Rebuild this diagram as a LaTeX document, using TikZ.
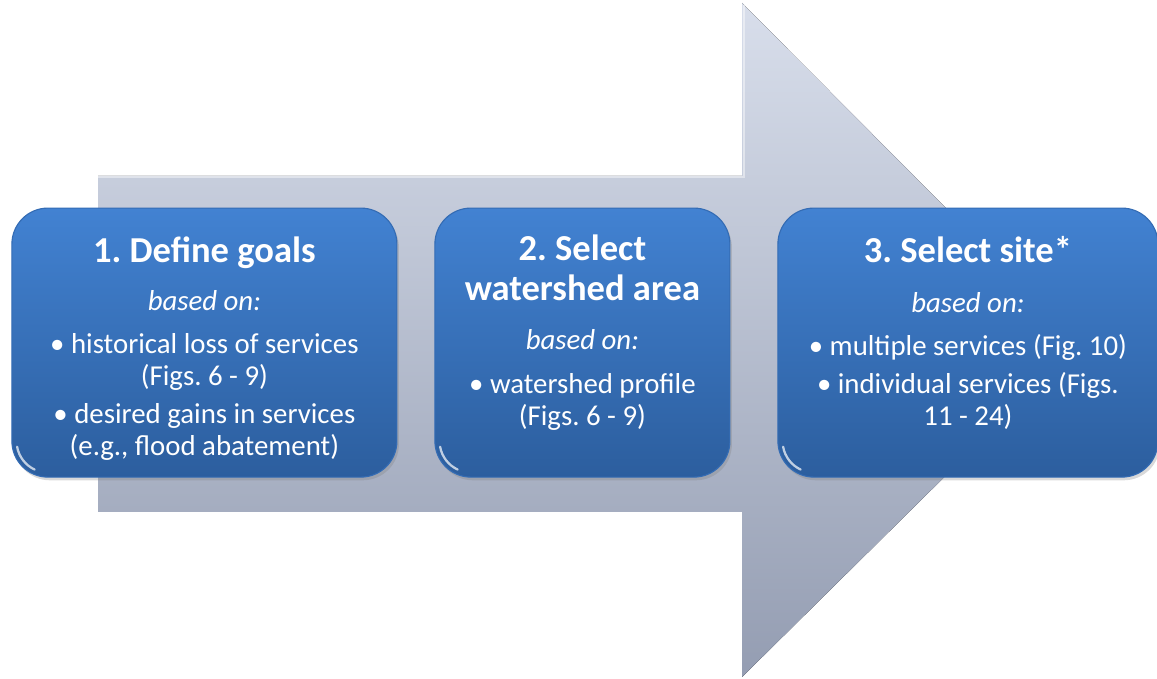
\documentclass[tikz,border=0pt]{standalone}
\usepackage{fontspec}
\setmainfont{Carlito}
\usepackage{tikz}
\usetikzlibrary{positioning}
\usetikzlibrary{shadows}

\definecolor{boxtop}{RGB}{66,130,210}
\definecolor{boxbot}{RGB}{44,94,158}
\definecolor{boxrim}{RGB}{52,108,180}
\definecolor{arrtop}{RGB}{216,222,235}
\definecolor{arrbot}{RGB}{148,157,178}

\begin{document}
\frenchspacing
\begin{tikzpicture}[stepbox/.style={rectangle,rounded corners=0.9cm,minimum height=6.725cm,outer sep=0pt,inner sep=0pt,top color=boxtop,bottom color=boxbot,draw=boxrim,line width=0.8pt,drop shadow={opacity=0.3,shadow xshift=0.05cm,shadow yshift=-0.08cm}},
  steptitle/.style={anchor=base,text=white,align=center,font={\fontsize{26}{28.5}\selectfont\bfseries}},
  stepbody/.style={anchor=base,text=white,align=center,font={\fontsize{20.5}{22.8}\selectfont}}]
  \useasboundingbox (0,0) rectangle (28.925,16.975);
  \clip (0,0) rectangle (28.925,16.975);

  \fill[top color=arrtop,bottom color=arrbot] (2.45,12.575) -- (18.55,12.575) -- (18.55,16.9) -- (27.0,8.4) -- (18.55,0.05) -- (18.55,4.175) -- (2.45,4.175) -- cycle;
  \draw[white,opacity=0.45,line width=1.5pt] (2.45,12.55) -- (18.6,12.55) -- (18.6,16.85);

  \node[stepbox,minimum width=9.625cm] (goals) at (5.11,8.41) {};
  \node[stepbox,minimum width=7.375cm,right=0.95cm of goals] (area) {};
  \node[stepbox,minimum width=9.5cm,right=1.2cm of area] (site) {};

  \foreach \b in {goals,area,site}
    \draw[white,opacity=0.7,line width=1.6pt,line cap=round] ([xshift=0.13cm,yshift=0.76cm]\b.south west) arc[start angle=190,end angle=245,radius=0.78cm];

  \node[steptitle] (goalstitle) at ([yshift=-1.35cm]goals.north) {1. Define goals};
  \node[steptitle] (areatitle) at ([yshift=-2.3cm]area.north) {2. Select\\ watershed area};
  \node[steptitle] (sitetitle) at ([yshift=-1.35cm]site.north) {3. Select site*};

  \node[stepbody] (goalsbody) at ([yshift=-6.175cm]goals.north) {\textit{based on:}\\[8pt] • historical loss of services\\ (Figs. 6 - 9)\\[4pt] • desired gains in services\\ (e.g., flood abatement)};
  \node[stepbody] (areabody) at ([yshift=-5.425cm]area.north) {\textit{based on:}\\[8pt] • watershed profile\\ (Figs. 6 - 9)};
  \node[stepbody] (sitebody) at ([yshift=-5.425cm]site.north) {\textit{based on:}\\[8pt] • multiple services (Fig. 10)\\[4pt] • individual services (Figs.\\ 11 - 24)};
\end{tikzpicture}
\end{document}
